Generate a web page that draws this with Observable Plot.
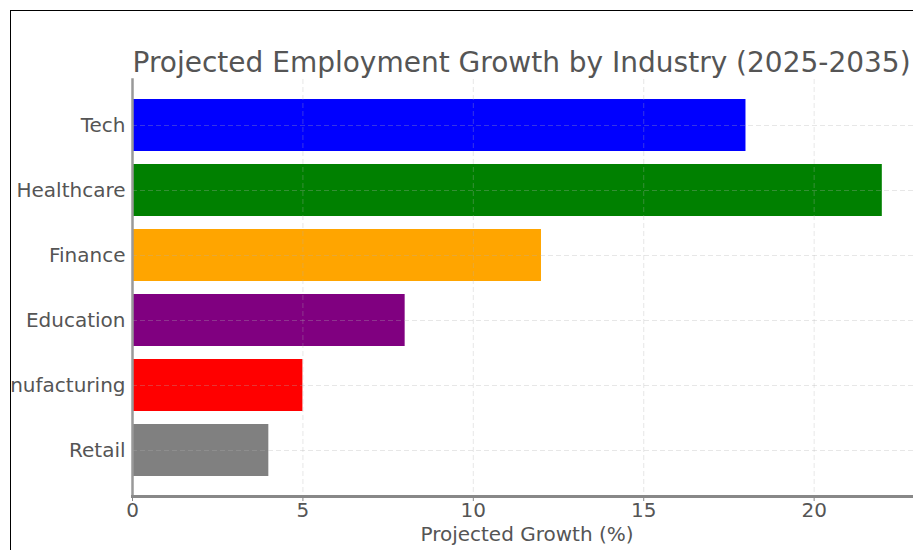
<!DOCTYPE html>
<html>
<head>
<meta charset="utf-8">
<script src="https://cdn.jsdelivr.net/npm/d3@7"></script>
<script src="https://cdn.jsdelivr.net/npm/@observablehq/plot@0.6"></script>
<style>
  html, body { margin: 0; padding: 0; background: #fff; overflow: hidden; }
  #frame {
    position: absolute; left: 10px; top: 10px; width: 1000px; height: 600px;
    border-left: 1.5px solid #000; border-top: 1.5px solid #000;
    overflow: hidden; background: #fff;
  }
  #inner { position: absolute; left: -11.5px; top: -11.5px; width: 930px; height: 550px; }
  #title {
    position: absolute; left: 133px; top: 47px; white-space: nowrap;
    font-family: "DejaVu Sans", sans-serif; font-size: 28px; line-height: 32px; color: #555;
  }
  #chart { position: absolute; left: 0; top: 0; }
</style>
</head>
<body>
<div id="frame"><div id="inner">
  <div id="chart"></div>
  <div id="title">Projected Employment Growth by Industry (2025-2035)</div>
</div></div>
<script>
const industries = ["Tech", "Healthcare", "Finance", "Education", "Manufacturing", "Retail"];
const growth = [18, 22, 12, 8, 5, 4];
const barColors = ["#0000ff", "#008000", "#ffa500", "#800080", "#ff0000", "#808080"];
const xTicks = [0, 5, 10, 15, 20];
const xLabel = "Projected Growth (%)";

const data = industries.map((d, i) => ({industry: d, growth: growth[i], color: barColors[i]}));

const chart = Plot.plot({
  width: 930,
  height: 550,
  marginLeft: 132,
  marginRight: 9,
  marginTop: 79,
  marginBottom: 54,
  style: {fontFamily: "DejaVu Sans, sans-serif", fontSize: "20px", color: "#555", background: "transparent"},
  x: {domain: [0, 23.15], ticks: xTicks, label: null},
  y: {domain: industries, paddingInner: 0.2, paddingOuter: 0.285, label: null},
  marks: [
    Plot.barX(data, {x: "growth", y: "industry", fill: "color"}),
    Plot.gridX({ticks: xTicks, stroke: "#b0b0b0", strokeOpacity: 0.3, strokeDasharray: "5,3"}),
    Plot.gridY({stroke: "#b0b0b0", strokeOpacity: 0.3, strokeDasharray: "5,3"}),
    Plot.axisX({ticks: xTicks, tickSize: 5, tickPadding: 1, stroke: "#888", fill: "#555", fontSize: 20,
                label: xLabel, labelAnchor: "center", labelArrow: "none", labelOffset: 44}),
    Plot.axisY({tickSize: 0, tickPadding: 7, fill: "#555", fontSize: 20, label: null}),
    Plot.frame({anchor: "left", stroke: "#999", strokeWidth: 2.5}),
    Plot.frame({anchor: "bottom", stroke: "#888", strokeWidth: 3})
  ]
});
document.getElementById("chart").appendChild(chart);
</script>
</body>
</html>
